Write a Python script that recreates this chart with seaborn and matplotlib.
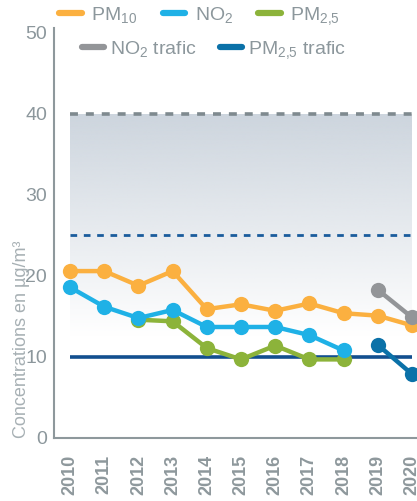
import numpy as np
import pandas as pd
import matplotlib
matplotlib.use("Agg")
import matplotlib.pyplot as plt
from matplotlib.lines import Line2D
import seaborn as sns

years = [2010, 2011, 2012, 2013, 2014, 2015, 2016, 2017, 2018, 2019, 2020]
pm10 = [20.6, 20.6, 18.8, 20.6, 15.9, 16.5, 15.7, 16.6, 15.4, 15.1, 13.9]
no2 = [18.6, 16.2, 14.8, 15.8, 13.7, 13.7, 13.7, 12.7, 10.8, None, None]
pm25 = [None, None, 14.6, 14.4, 11.1, 9.7, 11.4, 9.7, 9.7, None, None]
no2_trafic = [None] * 9 + [18.3, 14.9]
pm25_trafic = [None] * 9 + [11.5, 7.9]

series_labels = ["PM$\\mathregular{_{10}}$", "NO$\\mathregular{_2}$", "PM$\\mathregular{_{2{,}5}}$",
                 "NO$\\mathregular{_2}$ trafic", "PM$\\mathregular{_{2{,}5}}$ trafic"]
series_keys = ["PM10", "NO2", "PM2.5", "NO2 trafic", "PM2.5 trafic"]
colors = {"PM10": "#fbb040", "NO2": "#1fb1e6", "PM2.5": "#8cb33a",
          "NO2 trafic": "#939598", "PM2.5 trafic": "#0b71a8"}

limit_no2 = 40
limit_pm25 = 25
guide_pm25 = 10
yticks = [0, 10, 20, 30, 40, 50]
ylabel = "Concentrations en µg/m³"

rows = []
for key, vals in zip(series_keys, [pm10, no2, pm25, no2_trafic, pm25_trafic]):
    for y, v in zip(years, vals):
        if v is not None:
            rows.append({"year": y, "value": v, "series": key})
df = pd.DataFrame(rows)

sns.set_theme(style="white")
plt.rcParams["font.family"] = ["Liberation Sans Narrow", "Liberation Sans", "DejaVu Sans"]

txt_gray = "#8c979c"
axis_gray = "#8e989c"

fig = plt.figure(figsize=(4.17, 5.01), dpi=100)
ax = fig.add_axes([54 / 417, 63 / 501, 1 - 54 / 417, (438 - 28) / 501])
ax.set_xlim(2009.53, 2020.15)
ax.set_ylim(0, 50.6)

# shaded band between the limit values, fading downward
top_rgb = np.array([205, 213, 222]) / 255
n = 200
grad = np.ones((n, 1, 4))
grad[:, 0, :3] = top_rgb
grad[:, 0, 3] = np.linspace(1, 0, n)
ax.imshow(grad, extent=[2010, 2020, 12.5, limit_no2], aspect="auto",
          origin="upper", zorder=0, interpolation="bicubic")

ax.plot([2010, 2020.3], [limit_no2] * 2, color="#7f8a8f", lw=2.6,
        dashes=(2.2, 2.2), zorder=1, clip_on=False)
ax.plot([2010, 2020.3], [limit_pm25] * 2, color="#1a5c9c", lw=2.0,
        dashes=(2.4, 2.4), zorder=1, clip_on=False)
ax.plot([2010, 2020], [guide_pm25] * 2, color="#124f8f", lw=2.6, zorder=2,
        solid_capstyle="butt")

order = ["PM2.5", "NO2", "PM10", "NO2 trafic", "PM2.5 trafic"]
for i, key in enumerate(order):
    sub = df[df["series"] == key]
    sns.lineplot(data=sub, x="year", y="value", color=colors[key], lw=3.2,
                 marker="o", markersize=11, markeredgewidth=0, ax=ax,
                 zorder=3 + i, clip_on=False, legend=False)

ax.set_xlabel("")
ax.set_ylabel(ylabel, color="#a7b0b4", fontsize=13)
ax.yaxis.set_label_coords(-0.065, 0.24)
ax.set_yticks(yticks)
ax.set_xticks(years)
ax.set_xticklabels([str(y) for y in years], rotation=90, fontweight="bold",
                   color="#6d7a80", fontsize=13)
ax.tick_params(axis="y", direction="inout", length=8, width=1.2, colors=axis_gray,
               labelcolor=txt_gray, labelsize=14, pad=1)
ax.tick_params(axis="x", direction="inout", length=10, width=1.2, colors=axis_gray,
               pad=7)
for s in ["top", "right"]:
    ax.spines[s].set_visible(False)
for s in ["left", "bottom"]:
    ax.spines[s].set_color(axis_gray)
    ax.spines[s].set_linewidth(1.5)

def handle(key):
    return Line2D([], [], color=colors[key], lw=4.5, solid_capstyle="round")

leg1 = fig.legend([handle(k) for k in series_keys[:3]], series_labels[:3],
                  loc="upper left", bbox_to_anchor=(0.10, 1.025), ncol=3,
                  frameon=False, fontsize=14, handlelength=1.15, handletextpad=0.5,
                  columnspacing=1.3, labelcolor=txt_gray)
leg2 = fig.legend([handle(k) for k in series_keys[3:]], series_labels[3:],
                  loc="upper left", bbox_to_anchor=(0.154, 0.958), ncol=2,
                  frameon=False, fontsize=14, handlelength=1.15, handletextpad=0.3,
                  columnspacing=1.2, labelcolor=txt_gray)

fig.savefig("out.png", dpi=100)
